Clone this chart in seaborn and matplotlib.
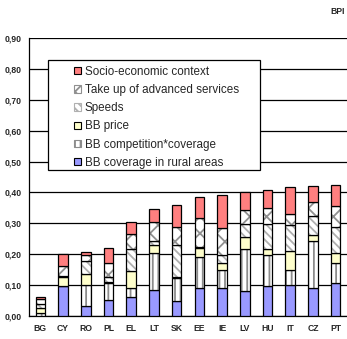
import numpy as np
import pandas as pd
import matplotlib
matplotlib.use("Agg")
import matplotlib.pyplot as plt
from matplotlib.patches import Patch, Rectangle
from matplotlib.ticker import FixedLocator, FuncFormatter
import seaborn as sns

countries = ["BG", "CY", "RO", "PL", "EL", "LT", "SK", "EE", "IE", "LV", "HU", "IT", "CZ", "PT"]
rural_coverage = [0.000, 0.096, 0.030, 0.051, 0.060, 0.083, 0.049, 0.090, 0.089, 0.081, 0.096, 0.098, 0.090, 0.105]
competition_coverage = [0.010, 0.001, 0.069, 0.054, 0.030, 0.120, 0.073, 0.100, 0.059, 0.135, 0.101, 0.051, 0.152, 0.066]
bb_price = [0.016, 0.027, 0.036, 0.003, 0.055, 0.026, 0.003, 0.030, 0.022, 0.038, 0.021, 0.060, 0.019, 0.033]
speeds = [0.013, 0.006, 0.043, 0.018, 0.073, 0.014, 0.105, 0.002, 0.027, 0.043, 0.080, 0.084, 0.063, 0.084]
take_up = [0.016, 0.030, 0.018, 0.046, 0.046, 0.061, 0.059, 0.095, 0.089, 0.045, 0.050, 0.038, 0.046, 0.068]
socio_economic = [0.007, 0.040, 0.011, 0.048, 0.040, 0.041, 0.069, 0.069, 0.106, 0.059, 0.059, 0.085, 0.050, 0.067]

labels = ["BB coverage in rural areas", "BB competition*coverage", "BB price",
          "Speeds", "Take up of advanced services", "Socio-economic context"]
series = [rural_coverage, competition_coverage, bb_price, speeds, take_up, socio_economic]

# fill colour and hatch per stacked component (bottom to top)
styles = [
    ("#9999FF", None, None),
    ("#FFFFFF", "|||", "#8c8c8c"),
    ("#FFFFCC", None, None),
    ("#FFFFFF", "\\\\\\\\", "#b0b0b0"),
    ("#FFFFFF", "xx", "#909090"),
    ("#FF7F7F", None, None),
]

sns.set_style("white")
plt.rcParams["font.family"] = ["Liberation Sans", "DejaVu Sans"]
plt.rcParams["hatch.linewidth"] = 1.3

fig = plt.figure(figsize=(3.47, 3.39), dpi=100)
ax = fig.add_axes([29 / 347, 23.3 / 339, 318 / 347, 277.4 / 339])

bar_w = 0.42
edge_lw = 0.9
bottom = np.zeros(len(countries))
for vals, (face, hatch, hcol) in zip(series, styles):
    vals = np.asarray(vals)
    df = pd.DataFrame({"country": countries, "value": vals})
    common = dict(data=df, x="country", y="value", order=countries, width=bar_w,
                  errorbar=None, saturation=1, ax=ax, zorder=3)
    if hatch is None:
        sns.barplot(**common, bottom=bottom, color=face, edgecolor="black", linewidth=edge_lw)
    else:
        sns.barplot(**common, bottom=bottom, color=face, edgecolor=face, linewidth=0)
        sns.barplot(**common, bottom=bottom, fill=False, color=hcol, linewidth=0, hatch=hatch)
        sns.barplot(**common, bottom=bottom, fill=False, color="black", linewidth=edge_lw)
    bottom = bottom + vals

ax.set_ylim(0, 0.9)
ax.set_xlim(-0.5, len(countries) - 0.5)
ax.set_xlabel("")
ax.set_ylabel("")
ax.yaxis.set_major_locator(FixedLocator(np.arange(0, 0.91, 0.1)))
ax.yaxis.set_major_formatter(FuncFormatter(lambda v, p: f"{v:.2f}".replace(".", ",")))
ax.grid(axis="y", color="black", linewidth=0.9, zorder=0)
ax.set_axisbelow(True)
for s in ["top", "right"]:
    ax.spines[s].set_visible(False)
for s in ["left", "bottom"]:
    ax.spines[s].set_color("black")
    ax.spines[s].set_linewidth(0.9)

ax.tick_params(axis="y", direction="out", length=3, width=0.9, color="black",
               pad=2, labelsize=6.2)
ax.tick_params(axis="x", which="major", length=0, pad=6, labelsize=6.2)
ax.xaxis.set_minor_locator(FixedLocator(np.arange(-0.5, len(countries), 1.0)))
ax.tick_params(axis="x", which="minor", direction="out", length=3, width=0.9, color="black")
for t in ax.get_xticklabels() + ax.get_yticklabels():
    t.set_fontweight("bold")

# legend box
ax.add_patch(Rectangle((0.06, 0.525), 0.666, 0.397, transform=ax.transAxes,
                       facecolor="white", edgecolor="black", linewidth=0.9, zorder=5))
handles = []
for lab, (face, hatch, hcol) in zip(labels, styles):
    handles.append(Patch(facecolor=face, edgecolor="black" if hatch is None else hcol,
                         hatch=hatch, linewidth=0.8, label=lab))
leg = ax.legend(handles[::-1], labels[::-1], loc="upper left",
                bbox_to_anchor=(0.117, 0.93), frameon=False, fontsize=8.4,
                handlelength=0.6, handleheight=0.6, handletextpad=0.3,
                labelspacing=0.53, borderpad=0.2)
leg.set_zorder(6)

fig.text(0.995, 0.965, "BPI", ha="right", va="center", fontsize=6.2, fontweight="bold")

fig.savefig("out.png", dpi=100)
